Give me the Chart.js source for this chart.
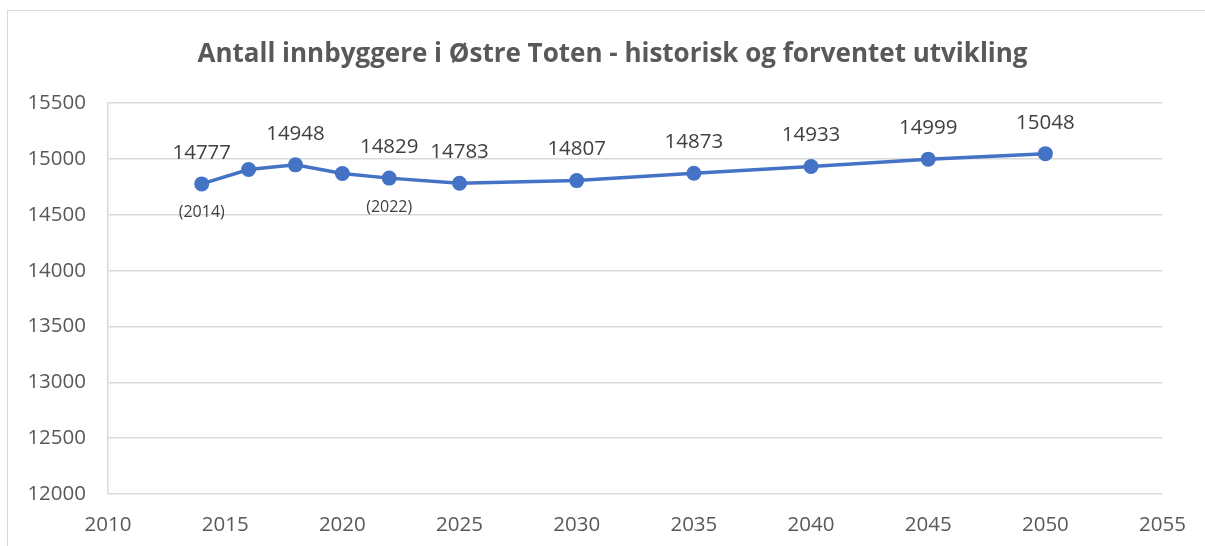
<!DOCTYPE html>
<html>
<head>
<meta charset="utf-8">
<script src="https://cdn.jsdelivr.net/npm/chart.js"></script>
<style>
  body { margin: 0; background: #fff; overflow: hidden; }
  #frame { position: absolute; left: 7px; top: 10px; width: 1300px; height: 600px; border: 1px solid #d9d9d9; }
  #wrap { position: absolute; left: 0; top: 0; width: 1205px; height: 546px; }
</style>
</head>
<body>
<div id="frame"></div>
<div id="wrap"><canvas id="myChart" width="1205" height="546"></canvas></div>
<script>
// years and population (historic up to 2022, forecast after)
const years = [2014, 2016, 2018, 2020, 2022, 2025, 2030, 2035, 2040, 2045, 2050];
const population = [14777, 14906, 14948, 14871, 14829, 14783, 14807, 14873, 14933, 14999, 15048];
// which points get a value label, and the small year notes under some points
const showValue = [true, false, true, false, true, true, true, true, true, true, true];
const yearNotes = ['(2014)', '', '', '', '(2022)', '', '', '', '', '', ''];

const xMin = 2010, xMax = 2055, xStep = 5;
const yMin = 12000, yMax = 15500, yStep = 500;

const fontFamily = '"Open Sans", "Liberation Sans", sans-serif';

// draws the value labels above points and year notes below
const labelPlugin = {
  id: 'pointLabels',
  afterDatasetsDraw(chart) {
    const ctx = chart.ctx;
    const meta = chart.getDatasetMeta(0);
    ctx.save();
    ctx.textAlign = 'center';
    ctx.textBaseline = 'middle';
    meta.data.forEach((pt, i) => {
      if (showValue[i]) {
        ctx.fillStyle = '#404040';
        ctx.font = '20.5px ' + fontFamily;
        ctx.fillText(String(population[i]), pt.x, pt.y - 31);
      }
      if (yearNotes[i]) {
        ctx.fillStyle = '#404040';
        ctx.font = '16px ' + fontFamily;
        ctx.fillText(yearNotes[i], pt.x, pt.y + 29);
      }
    });
    ctx.restore();
  }
};

const ctx = document.getElementById('myChart').getContext('2d');
const myChart = new Chart(ctx, {
  type: 'line',
  data: {
    datasets: [{
      label: 'Innbyggere',
      data: years.map((y, i) => ({ x: y, y: population[i] })),
      borderColor: '#4472C4',
      backgroundColor: '#4472C4',
      borderWidth: 3.5,
      pointRadius: 7.5,
      pointHoverRadius: 7.5,
      pointBorderWidth: 0,
      tension: 0
    }]
  },
  options: {
    responsive: false,
    animation: false,
    layout: { padding: { left: 20, right: 0, top: 0, bottom: 0 } },
    plugins: {
      legend: { display: false },
      tooltip: { enabled: false },
      title: {
        display: true,
        text: 'Antall innbyggere i Østre Toten - historisk og forventet utvikling',
        color: '#595959',
        font: { family: fontFamily, size: 26, weight: 'bold' },
        padding: { top: 39, bottom: 33 }
      }
    },
    scales: {
      x: {
        type: 'linear',
        min: xMin,
        max: xMax,
        ticks: { stepSize: xStep, color: '#595959', font: { family: fontFamily, size: 20.5 }, padding: 19, callback: v => String(v) },
        grid: { display: false, drawTicks: false },
        border: { display: false },
        afterFit: s => { s.height = 52; }
      },
      y: {
        min: yMin,
        max: yMax,
        ticks: { stepSize: yStep, color: '#595959', font: { family: fontFamily, size: 20.5 }, padding: 22, callback: v => String(v) },
        grid: { color: '#d9d9d9', lineWidth: 1.5, drawTicks: false },
        border: { display: true, color: '#d9d9d9', width: 1.5 },
        afterFit: s => { s.width = 88; }
      },
      // empty right-hand spacer so the plot ends where the reference does
      yRight: {
        position: 'right',
        min: yMin,
        max: yMax,
        ticks: { display: false },
        grid: { display: false, drawTicks: false },
        border: { display: false },
        afterFit: s => { s.width = 40; }
      }
    }
  },
  plugins: [labelPlugin]
});
</script>
</body>
</html>
